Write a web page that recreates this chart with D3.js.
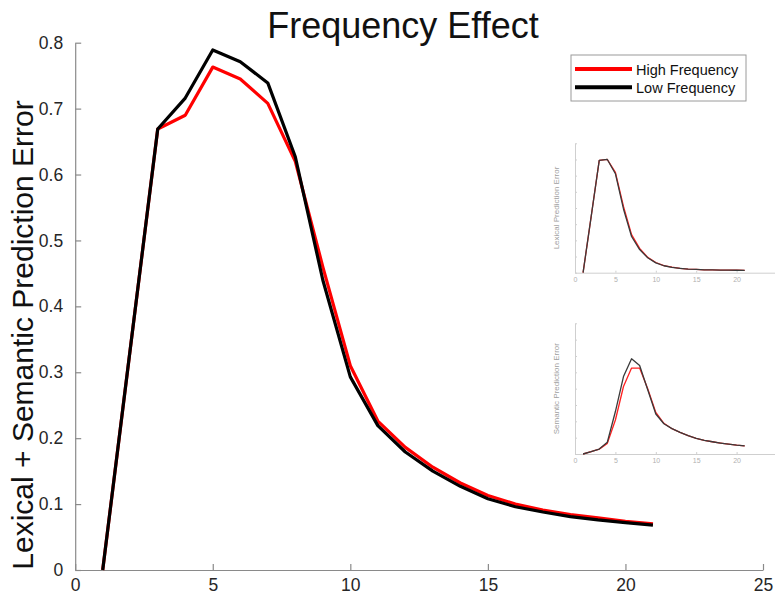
<!DOCTYPE html>
<html>
<head>
<meta charset="utf-8">
<script src="https://cdn.jsdelivr.net/npm/d3@7"></script>
<style>
  html, body { margin: 0; padding: 0; background: #fff; }
  svg { display: block; font-family: "Liberation Sans", Arial, sans-serif; }
</style>
</head>
<body>
<svg id="chart" width="775" height="602"></svg>
<script>
// Word position (1..21)
const positions = d3.range(1, 22);

// Main panel: lexical + semantic prediction error
const highFreq = [0, 0.335, 0.669, 0.690, 0.763, 0.745, 0.708, 0.620, 0.460, 0.310, 0.226,
                  0.186, 0.156, 0.132, 0.113, 0.100, 0.091, 0.084, 0.079, 0.074, 0.070];
const lowFreq  = [0, 0.335, 0.669, 0.716, 0.789, 0.771, 0.739, 0.627, 0.440, 0.293, 0.219,
                  0.179, 0.150, 0.127, 0.108, 0.096, 0.088, 0.081, 0.076, 0.072, 0.068];

// Inset: lexical prediction error
const lexHigh = [0, 0.347, 0.694, 0.700, 0.620, 0.410, 0.235, 0.150, 0.095, 0.063, 0.044,
                 0.034, 0.027, 0.022, 0.020, 0.018, 0.017, 0.016, 0.016, 0.015, 0.014];
const lexLow  = [0, 0.347, 0.694, 0.700, 0.612, 0.394, 0.224, 0.143, 0.092, 0.061, 0.043,
                 0.033, 0.027, 0.022, 0.020, 0.018, 0.017, 0.016, 0.016, 0.015, 0.014];

// Inset: semantic prediction error
const semHigh = [0, 0.014, 0.030, 0.065, 0.208, 0.413, 0.526, 0.526, 0.400, 0.255, 0.188,
                 0.155, 0.132, 0.112, 0.096, 0.084, 0.075, 0.067, 0.060, 0.054, 0.050];
const semLow  = [0, 0.014, 0.030, 0.072, 0.260, 0.474, 0.583, 0.542, 0.393, 0.245, 0.185,
                 0.155, 0.132, 0.112, 0.096, 0.084, 0.075, 0.067, 0.060, 0.054, 0.050];

const xTicks = [0, 5, 10, 15, 20, 25];
const insetXTicks = [0, 5, 10, 15, 20];
const yTicks = [0, 0.1, 0.2, 0.3, 0.4, 0.5, 0.6, 0.7, 0.8];

const seriesNames = ["High Frequency", "Low Frequency"];
const seriesColors = ["#ff0000", "#000000"];

const svg = d3.select("#chart");

// ---------- main panel ----------
const x = d3.scaleLinear().domain([0, 25]).range([75.2, 763]);
const y = d3.scaleLinear().domain([0, 0.8]).range([570, 42.7]);

const axisColor = "#8a8a8a";
const textColor = "#262626";

const xAxis = svg.append("g")
  .attr("transform", `translate(0,${y(0)})`)
  .call(d3.axisBottom(x).tickValues(xTicks).tickFormat(d3.format("d"))
        .tickSizeInner(-6).tickSizeOuter(0).tickPadding(9));
const yAxis = svg.append("g")
  .attr("transform", `translate(${x(0)},0)`)
  .call(d3.axisLeft(y).tickValues(yTicks).tickFormat(d => d === 0 ? "0" : d3.format(".1f")(d))
        .tickSizeInner(-6).tickSizeOuter(0).tickPadding(12));

[xAxis, yAxis].forEach(g => {
  g.selectAll("path.domain").attr("stroke", axisColor).attr("stroke-width", 1.2);
  g.selectAll(".tick line").attr("stroke", axisColor).attr("stroke-width", 1.2);
  g.selectAll(".tick text").attr("fill", textColor).style("font-size", "17.5px");
});

const line = d3.line().x((d, i) => x(positions[i])).y(d => y(d));
[highFreq, lowFreq].forEach((vals, k) => {
  svg.append("path").datum(vals)
    .attr("d", line)
    .attr("fill", "none")
    .attr("stroke", seriesColors[k])
    .attr("stroke-width", 3.2)
    .attr("stroke-linejoin", "round");
});

// title
svg.append("text")
  .attr("x", 403).attr("y", 38)
  .attr("text-anchor", "middle")
  .attr("fill", "#111")
  .style("font-size", "36px")
  .text("Frequency Effect");

// y-axis label
svg.append("text")
  .attr("transform", "translate(33,335) rotate(-90)")
  .attr("text-anchor", "middle")
  .attr("fill", "#111")
  .style("font-size", "30px")
  .text("Lexical + Semantic Prediction Error");

// legend
const legend = svg.append("g");
legend.append("rect")
  .attr("x", 571).attr("y", 55).attr("width", 175).attr("height", 46)
  .attr("fill", "#fff").attr("stroke", "#9a9a9a").attr("stroke-width", 1);
seriesNames.forEach((name, k) => {
  const ly = 69 + k * 18.3;
  legend.append("line")
    .attr("x1", 575).attr("x2", 632).attr("y1", ly).attr("y2", ly)
    .attr("stroke", seriesColors[k]).attr("stroke-width", 4);
  legend.append("text")
    .attr("x", 636).attr("y", ly + 5.5)
    .attr("fill", "#111")
    .style("font-size", "14.5px")
    .text(name);
});

// ---------- insets ----------
function inset(top, bottom, label, hi, lo) {
  const ix = d3.scaleLinear().domain([0, 25]).range([575, 777]);
  const iy = d3.scaleLinear().domain([0, 0.8]).range([bottom, top]);
  const g = svg.append("g");
  const ax = g.append("g")
    .attr("transform", `translate(0,${bottom})`)
    .call(d3.axisBottom(ix).tickValues(insetXTicks).tickFormat(d3.format("d"))
          .tickSizeInner(-2).tickSizeOuter(0).tickPadding(4));
  const ay = g.append("g")
    .attr("transform", `translate(575,0)`)
    .call(d3.axisLeft(iy).tickValues(yTicks).tickFormat("")
          .tickSizeInner(-2).tickSizeOuter(0));
  [ax, ay].forEach(a => {
    a.selectAll("path.domain").attr("stroke", "#cfcfcf").attr("stroke-width", 1);
    a.selectAll(".tick line").attr("stroke", "#cfcfcf");
    a.selectAll(".tick text").attr("fill", "#b0b0b0").style("font-size", "7px");
  });
  g.append("text")
    .attr("transform", `translate(${559},${(top + bottom) / 2}) rotate(-90)`)
    .attr("text-anchor", "middle")
    .attr("fill", "#a0a0a0")
    .style("font-size", "8px")
    .text(label);
  const l = d3.line().x((d, i) => ix(positions[i])).y(d => iy(d));
  [hi, lo].forEach((vals, k) => {
    g.append("path").datum(vals)
      .attr("d", l)
      .attr("fill", "none")
      .attr("stroke", k === 0 ? "#ff2020" : "#3a3a3a")
      .attr("stroke-width", 1.3)
      .attr("stroke-linejoin", "round");
  });
}
inset(143.3, 272.7, "Lexical Prediction Error", lexHigh, lexLow);
inset(323.3, 454, "Semantic Prediction Error", semHigh, semLow);
</script>
</body>
</html>
